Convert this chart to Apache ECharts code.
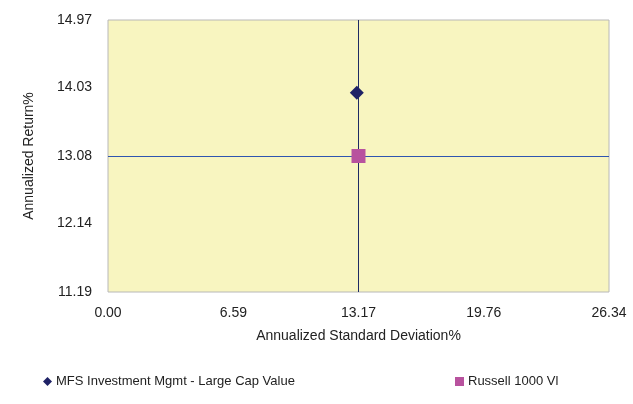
<!DOCTYPE html>
<html>
<head>
<meta charset="utf-8">
<script src="https://cdn.jsdelivr.net/npm/echarts@6/dist/echarts.min.js"></script>
<style>
  html, body { margin: 0; padding: 0; background: #ffffff; }
  #chart { width: 633px; height: 404px; }
</style>
</head>
<body>
<div id="chart"></div>
<script>
// Risk / return scatter: annualized standard deviation vs annualized return
const seriesNames = ['MFS Investment Mgmt - Large Cap Value', 'Russell 1000 Vl'];
const fundPoint = [13.08, 13.96];       // [std dev %, return %]
const benchmarkPoint = [13.17, 13.08];  // [std dev %, return %]
const xTicks = [0.00, 6.59, 13.17, 19.76, 26.34];
const yTicks = [11.19, 12.14, 13.08, 14.03, 14.97];

const FONT = 'Liberation Sans, Arial, sans-serif';
const chart = echarts.init(document.getElementById('chart'));

chart.setOption({
  animation: false,
  textStyle: { fontFamily: FONT },
  grid: {
    left: 108, right: 24, top: 20, bottom: 112,
    show: true,
    backgroundColor: '#f8f5c0',
    borderColor: '#b8b8b8',
    borderWidth: 1
  },
  xAxis: {
    type: 'value',
    min: xTicks[0],
    max: xTicks[xTicks.length - 1],
    name: 'Annualized Standard Deviation%',
    nameLocation: 'middle',
    nameGap: 37,
    nameTextStyle: { color: '#222', fontSize: 14, fontFamily: FONT },
    axisLine: { show: false },
    axisTick: { show: false },
    splitLine: { show: false },
    axisLabel: {
      customValues: xTicks,
      color: '#222', fontSize: 14, fontFamily: FONT, margin: 14,
      formatter: v => v.toFixed(2)
    }
  },
  yAxis: {
    type: 'value',
    min: yTicks[0],
    max: yTicks[yTicks.length - 1],
    name: 'Annualized Return%',
    nameLocation: 'middle',
    nameGap: 72,
    nameTextStyle: { color: '#222', fontSize: 14, fontFamily: FONT },
    axisLine: { show: false },
    axisTick: { show: false },
    splitLine: { show: false },
    axisLabel: {
      customValues: yTicks,
      color: '#222', fontSize: 14, fontFamily: FONT, margin: 16,
      formatter: v => v.toFixed(2)
    }
  },
  legend: [
    {
      data: [{ name: seriesNames[0], icon: 'diamond', itemStyle: { opacity: 1 } }],
      left: 38, top: 370,
      itemWidth: 9, itemHeight: 9, itemGap: 4,
      textStyle: { color: '#222', fontSize: 13, fontFamily: FONT, padding: [0, 0, 0, -1] }
    },
    {
      data: [{ name: seriesNames[1], icon: 'rect', itemStyle: { opacity: 1 } }],
      left: 450, top: 370,
      itemWidth: 9, itemHeight: 9, itemGap: 4,
      textStyle: { color: '#222', fontSize: 13, fontFamily: FONT, padding: [0, 0, 0, -1] }
    }
  ],
  series: [
    {
      // benchmark crosshair, drawn beneath the markers
      name: 'crosshair',
      type: 'scatter',
      data: [],
      z: 1,
      markLine: {
        z: 1,
        silent: true,
        symbol: 'none',
        label: { show: false },
        data: [
          { xAxis: benchmarkPoint[0], lineStyle: { color: '#1f2b63', width: 1, type: 'solid' } },
          { yAxis: benchmarkPoint[1], lineStyle: { color: '#2f55b0', width: 1, type: 'solid' } }
        ]
      }
    },
    {
      name: seriesNames[1],
      type: 'scatter',
      symbol: 'rect',
      symbolSize: 14,
      itemStyle: { color: '#b8529e', opacity: 1 },
      data: [benchmarkPoint],
      z: 3
    },
    {
      name: seriesNames[0],
      type: 'scatter',
      symbol: 'diamond',
      symbolSize: 14,
      itemStyle: { color: '#1f2266', opacity: 1 },
      data: [fundPoint],
      z: 4
    }
  ]
});
</script>
</body>
</html>
